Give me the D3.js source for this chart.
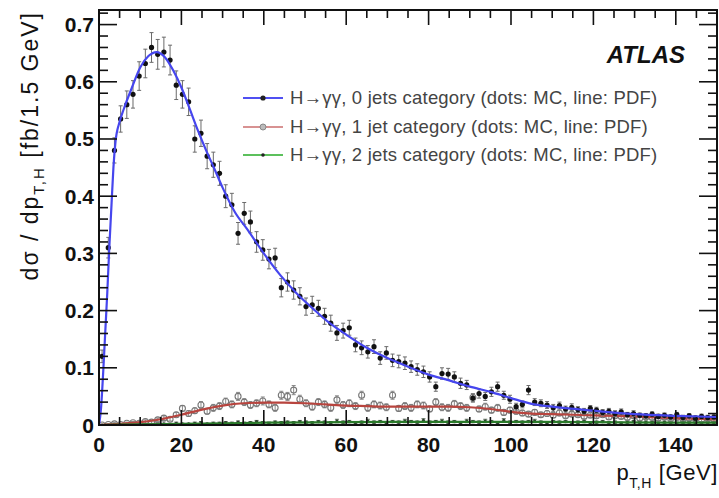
<!DOCTYPE html>
<html>
<head>
<meta charset="utf-8">
<script src="https://cdn.jsdelivr.net/npm/d3@7"></script>
<style>
  body { margin: 0; background: #fff; }
  svg { display: block; font-family: "Liberation Sans", Arial, sans-serif; }
</style>
</head>
<body>
<svg id="chart" width="719" height="498"></svg>
<script>
// pT bins: 100 bins of 1.5 GeV from 0 to 150
const binWidth = 1.5;
const nBins = 100;

// 0 jets category, MC (dots) and its errors
const mc0 = [
  0.12, 0.31, 0.48, 0.535, 0.56, 0.578, 0.61, 0.632, 0.66, 0.648,
  0.652, 0.638, 0.594, 0.578, 0.565, 0.50, 0.51, 0.47, 0.455, 0.44,
  0.40, 0.385, 0.335, 0.37, 0.355, 0.32, 0.306, 0.29, 0.292, 0.24,
  0.25, 0.236, 0.225, 0.207, 0.21, 0.204, 0.19, 0.178, 0.161, 0.165,
  0.17, 0.14, 0.135, 0.128, 0.137, 0.117, 0.126, 0.113, 0.111, 0.108,
  0.102, 0.097, 0.093, 0.084, 0.067, 0.09, 0.089, 0.084, 0.073, 0.07,
  0.047, 0.055, 0.05, 0.058, 0.067, 0.052, 0.045, 0.032, 0.036, 0.061,
  0.04, 0.038, 0.035, 0.03, 0.034, 0.028, 0.031, 0.027, 0.024, 0.029,
  0.026, 0.022, 0.024, 0.02, 0.023, 0.018, 0.02, 0.017, 0.016, 0.019,
  0.015, 0.017, 0.014, 0.018, 0.013, 0.016, 0.012, 0.015, 0.013, 0.014
];
const err0 = [
  0.011, 0.018, 0.022, 0.023, 0.024, 0.024, 0.025, 0.025, 0.026, 0.026,
  0.026, 0.026, 0.025, 0.024, 0.024, 0.023, 0.023, 0.022, 0.022, 0.021,
  0.020, 0.020, 0.019, 0.019, 0.019, 0.018, 0.018, 0.017, 0.017, 0.016,
  0.016, 0.016, 0.015, 0.015, 0.015, 0.014, 0.014, 0.014, 0.013, 0.013,
  0.013, 0.012, 0.012, 0.011, 0.012, 0.011, 0.011, 0.011, 0.011, 0.011,
  0.010, 0.010, 0.010, 0.009, 0.008, 0.010, 0.010, 0.009, 0.009, 0.008,
  0.007, 0.008, 0.007, 0.008, 0.008, 0.007, 0.007, 0.006, 0.006, 0.008,
  0.006, 0.006, 0.006, 0.006, 0.006, 0.005, 0.006, 0.005, 0.005, 0.005,
  0.005, 0.005, 0.005, 0.005, 0.005, 0.004, 0.005, 0.004, 0.004, 0.004,
  0.004, 0.004, 0.004, 0.004, 0.004, 0.004, 0.004, 0.004, 0.004, 0.004
];

// 1 jet category, MC (dots) and its errors
const mc1 = [
  0.000, 0.001, 0.002, 0.001, 0.003, 0.004, 0.003, 0.006, 0.005, 0.009,
  0.012, 0.010, 0.018, 0.029, 0.020, 0.025, 0.035, 0.024, 0.030, 0.033,
  0.041, 0.036, 0.050, 0.040, 0.035, 0.038, 0.042, 0.036, 0.030, 0.052,
  0.050, 0.061, 0.045, 0.038, 0.032, 0.040, 0.036, 0.030, 0.044, 0.035,
  0.038, 0.033, 0.052, 0.030, 0.036, 0.034, 0.031, 0.052, 0.029, 0.033,
  0.030, 0.036, 0.034, 0.028, 0.040, 0.031, 0.030, 0.037, 0.033, 0.030,
  0.048, 0.028, 0.032, 0.026, 0.030, 0.022, 0.026, 0.024, 0.021, 0.019,
  0.022, 0.018, 0.020, 0.017, 0.021, 0.016, 0.019, 0.018, 0.015, 0.017,
  0.016, 0.018, 0.014, 0.016, 0.015, 0.013, 0.016, 0.012, 0.014, 0.013,
  0.012, 0.014, 0.011, 0.013, 0.010, 0.012, 0.011, 0.009, 0.011, 0.010
];
const err1 = [
  0.001, 0.001, 0.002, 0.001, 0.002, 0.002, 0.002, 0.003, 0.002, 0.003,
  0.004, 0.003, 0.004, 0.005, 0.005, 0.005, 0.006, 0.005, 0.006, 0.006,
  0.006, 0.006, 0.007, 0.006, 0.006, 0.006, 0.007, 0.006, 0.006, 0.007,
  0.007, 0.008, 0.007, 0.006, 0.006, 0.006, 0.006, 0.006, 0.007, 0.006,
  0.006, 0.006, 0.007, 0.006, 0.006, 0.006, 0.006, 0.007, 0.005, 0.006,
  0.006, 0.006, 0.006, 0.005, 0.006, 0.006, 0.006, 0.006, 0.006, 0.006,
  0.007, 0.005, 0.006, 0.005, 0.006, 0.005, 0.005, 0.005, 0.005, 0.004,
  0.005, 0.004, 0.005, 0.004, 0.005, 0.004, 0.004, 0.004, 0.004, 0.004,
  0.004, 0.004, 0.004, 0.004, 0.004, 0.004, 0.004, 0.004, 0.004, 0.004,
  0.004, 0.004, 0.003, 0.004, 0.003, 0.004, 0.003, 0.003, 0.003, 0.003
];

// 2 jets category, MC (dots) and its errors
const mc2 = [
  0.000, 0.000, 0.001, 0.000, 0.001, 0.001, 0.002, 0.001, 0.001, 0.002,
  0.002, 0.001, 0.003, 0.002, 0.002, 0.003, 0.004, 0.002, 0.003, 0.003,
  0.004, 0.003, 0.005, 0.003, 0.004, 0.006, 0.004, 0.003, 0.005, 0.004,
  0.005, 0.004, 0.006, 0.005, 0.004, 0.006, 0.005, 0.004, 0.007, 0.005,
  0.006, 0.004, 0.005, 0.007, 0.005, 0.006, 0.004, 0.006, 0.005, 0.007,
  0.006, 0.005, 0.008, 0.005, 0.006, 0.007, 0.005, 0.006, 0.004, 0.007,
  0.006, 0.005, 0.007, 0.006, 0.004, 0.008, 0.005, 0.006, 0.005, 0.006,
  0.007, 0.005, 0.004, 0.006, 0.005, 0.006, 0.004, 0.005, 0.006, 0.004,
  0.005, 0.006, 0.004, 0.005, 0.003, 0.005, 0.006, 0.004, 0.005, 0.004,
  0.003, 0.005, 0.004, 0.003, 0.005, 0.004, 0.003, 0.004, 0.003, 0.004
];
const err2 = [
  0.001, 0.001, 0.001, 0.001, 0.001, 0.001, 0.001, 0.001, 0.001, 0.001,
  0.001, 0.001, 0.002, 0.001, 0.001, 0.002, 0.002, 0.001, 0.002, 0.002,
  0.002, 0.002, 0.002, 0.002, 0.002, 0.002, 0.002, 0.002, 0.002, 0.002,
  0.002, 0.002, 0.002, 0.002, 0.002, 0.002, 0.002, 0.002, 0.003, 0.002,
  0.002, 0.002, 0.002, 0.003, 0.002, 0.002, 0.002, 0.002, 0.002, 0.003,
  0.002, 0.002, 0.003, 0.002, 0.002, 0.003, 0.002, 0.002, 0.002, 0.003,
  0.002, 0.002, 0.003, 0.002, 0.002, 0.003, 0.002, 0.002, 0.002, 0.002,
  0.003, 0.002, 0.002, 0.002, 0.002, 0.002, 0.002, 0.002, 0.002, 0.002,
  0.002, 0.002, 0.002, 0.002, 0.002, 0.002, 0.002, 0.002, 0.002, 0.002,
  0.002, 0.002, 0.002, 0.002, 0.002, 0.002, 0.002, 0.002, 0.002, 0.002
];

const pdf0Pt  = [0, 0.5, 1, 1.5, 2, 2.5, 3, 3.5, 4, 5, 6, 8, 10, 12, 14, 16, 18, 20, 22, 24, 26, 28, 30, 33, 36, 40, 44, 48, 52, 56, 60, 65, 70, 75, 80, 85, 90, 95, 100, 105, 110, 120, 130, 140, 150];
const pdf0Val = [0, 0.03, 0.09, 0.16, 0.23, 0.31, 0.38, 0.45, 0.495, 0.53, 0.552, 0.59, 0.625, 0.645, 0.652, 0.643, 0.62, 0.59, 0.553, 0.515, 0.48, 0.448, 0.415, 0.372, 0.342, 0.30, 0.262, 0.23, 0.203, 0.178, 0.158, 0.135, 0.117, 0.102, 0.088, 0.078, 0.067, 0.058, 0.047, 0.037, 0.032, 0.025, 0.019, 0.016, 0.014];
const pdf1Pt  = [0, 5, 10, 15, 20, 25, 30, 35, 40, 45, 50, 55, 60, 65, 70, 75, 80, 85, 90, 95, 100, 105, 110, 120, 130, 140, 150];
const pdf1Val = [0, 0.002, 0.005, 0.01, 0.018, 0.027, 0.034, 0.038, 0.039, 0.039, 0.038, 0.036, 0.034, 0.033, 0.032, 0.032, 0.032, 0.032, 0.031, 0.028, 0.023, 0.02, 0.019, 0.017, 0.015, 0.012, 0.01];
const pdf2Pt  = [0, 10, 20, 30, 40, 60, 80, 100, 120, 140, 150];
const pdf2Val = [0, 0.001, 0.002, 0.003, 0.004, 0.005, 0.0055, 0.0055, 0.005, 0.004, 0.004];

const legendLabels = [
  'H\u2192\u03B3\u03B3, 0 jets category (dots: MC, line: PDF)',
  'H\u2192\u03B3\u03B3, 1 jet category (dots: MC, line: PDF)',
  'H\u2192\u03B3\u03B3, 2 jets category (dots: MC, line: PDF)'
];
const xTicks = [0, 20, 40, 60, 80, 100, 120, 140];
const yTicks = [0, 0.1, 0.2, 0.3, 0.4, 0.5, 0.6, 0.7];

const svg = d3.select('#chart');

// Frame geometry
const frameL = 99, frameR = 717, frameT = 10, frameB = 425;

const x = d3.scaleLinear().domain([0, 150]).range([frameL, frameR]);
const y = d3.scaleLinear().domain([0, 0.7255]).range([frameB, frameT]);

svg.append('defs').append('clipPath').attr('id', 'plotclip')
  .append('rect')
  .attr('x', frameL).attr('y', frameT)
  .attr('width', frameR - frameL).attr('height', frameB - frameT);

const plot = svg.append('g').attr('clip-path', 'url(#plotclip)');

const centers = d3.range(nBins).map(i => (i + 0.5) * binWidth);

// Draw MC points with vertical error bars
function drawMC(values, errors, opts) {
  const g = plot.append('g');
  const pts = values.map((v, i) => ({ x: centers[i], v: v, e: errors[i] }));
  g.selectAll('line.err').data(pts).join('line')
    .attr('class', 'err')
    .attr('x1', d => x(d.x)).attr('x2', d => x(d.x))
    .attr('y1', d => y(d.v - d.e)).attr('y2', d => y(d.v + d.e))
    .attr('stroke', opts.errColor).attr('stroke-width', 1);
  ['lo', 'hi'].forEach(k => {
    const s = k === 'hi' ? 1 : -1;
    g.selectAll('line.cap' + k).data(pts).join('line')
      .attr('class', 'cap' + k)
      .attr('x1', d => x(d.x) - 2).attr('x2', d => x(d.x) + 2)
      .attr('y1', d => y(d.v + s * d.e)).attr('y2', d => y(d.v + s * d.e))
      .attr('stroke', opts.errColor).attr('stroke-width', 1);
  });
  g.selectAll('circle').data(pts).join('circle')
    .attr('cx', d => x(d.x)).attr('cy', d => y(d.v))
    .attr('r', opts.r)
    .attr('fill', opts.fill)
    .attr('stroke', opts.stroke)
    .attr('stroke-width', opts.strokeWidth);
}

function drawPDF(pts, vals, color) {
  const line = d3.line()
    .x((d, i) => x(pts[i]))
    .y(d => y(d))
    .curve(d3.curveMonotoneX);
  plot.append('path')
    .attr('d', line(vals))
    .attr('fill', 'none')
    .attr('stroke', color)
    .attr('stroke-width', 2.2);
}

drawMC(mc2, err2, { r: 1.6, fill: '#2d3a2d', stroke: 'none', strokeWidth: 0, errColor: '#5a6a5a' });
drawMC(mc1, err1, { r: 3, fill: 'none', stroke: '#777', strokeWidth: 1.1, errColor: '#8a8a8a' });
drawPDF(pdf1Pt, pdf1Val, '#b8443e');
drawPDF(pdf2Pt, pdf2Val, '#2a7a2a');
drawMC(mc0, err0, { r: 2.6, fill: '#111', stroke: 'none', strokeWidth: 0, errColor: '#6a6a6a' });
drawPDF(pdf0Pt, pdf0Val, '#4646ee');

// Frame
svg.append('rect')
  .attr('x', frameL).attr('y', frameT)
  .attr('width', frameR - frameL).attr('height', frameB - frameT)
  .attr('fill', 'none').attr('stroke', '#111').attr('stroke-width', 2);

// Ticks (inward, mirrored on top and right)
const axes = svg.append('g').attr('stroke', '#111');
const xMinor = d3.range(0, 151, 5);
xMinor.forEach(v => {
  const major = v % 20 === 0;
  const len = major ? 15 : 8;
  axes.append('line').attr('x1', x(v)).attr('x2', x(v))
    .attr('y1', frameB).attr('y2', frameB - len).attr('stroke-width', 1.6);
  axes.append('line').attr('x1', x(v)).attr('x2', x(v))
    .attr('y1', frameT).attr('y2', frameT + len).attr('stroke-width', 1.6);
});
const yMinor = d3.range(0, 37).map(i => i * 0.02);
yMinor.forEach((v, i) => {
  const major = i % 5 === 0;
  const len = major ? 18 : 9;
  axes.append('line').attr('x1', frameL).attr('x2', frameL + len)
    .attr('y1', y(v)).attr('y2', y(v)).attr('stroke-width', 1.6);
  axes.append('line').attr('x1', frameR).attr('x2', frameR - len)
    .attr('y1', y(v)).attr('y2', y(v)).attr('stroke-width', 1.6);
});

// Tick labels
const labels = svg.append('g')
  .attr('font-size', 21).attr('font-weight', 'bold').attr('fill', '#111');
labels.selectAll('text.xt').data(xTicks).join('text')
  .attr('class', 'xt')
  .attr('x', d => x(d)).attr('y', 452)
  .attr('text-anchor', 'middle')
  .text(d => d);
labels.selectAll('text.yt').data(yTicks).join('text')
  .attr('class', 'yt')
  .attr('x', 94).attr('y', d => y(d) + 7.5)
  .attr('text-anchor', 'end')
  .text(d => d === 0 ? '0' : d.toFixed(1));

// Axis titles
const yTitle = svg.append('text')
  .attr('transform', 'translate(38,11) rotate(-90)')
  .attr('text-anchor', 'end')
  .attr('font-size', 23).attr('letter-spacing', 2).attr('fill', '#111');
yTitle.append('tspan').text('d\u03C3 / dp');
yTitle.append('tspan').attr('font-size', 15).attr('dy', 6).text('T,H');
yTitle.append('tspan').attr('dy', -6).text(' [fb/1.5 GeV]');

const xTitle = svg.append('text')
  .attr('x', 718).attr('y', 480)
  .attr('text-anchor', 'end')
  .attr('font-size', 22).attr('letter-spacing', 0.6).attr('fill', '#111');
xTitle.append('tspan').text('p');
xTitle.append('tspan').attr('font-size', 14).attr('dy', 8).text('T,H');
xTitle.append('tspan').attr('dy', -8).text(' [GeV]');

// ATLAS label
svg.append('text')
  .attr('x', 685).attr('y', 63)
  .attr('text-anchor', 'end')
  .attr('font-size', 24).attr('font-weight', 'bold').attr('font-style', 'italic')
  .attr('fill', '#111')
  .text('ATLAS');

// Legend
const legendColors = ['#5050f2', '#d89292', '#5cc05c'];
const legendRowY = [98, 127, 155];
const leg = svg.append('g');
legendLabels.forEach((lab, i) => {
  const ly = legendRowY[i];
  leg.append('line').attr('x1', 243).attr('x2', 283)
    .attr('y1', ly).attr('y2', ly)
    .attr('stroke', legendColors[i]).attr('stroke-width', 2);
  if (i === 1) {
    leg.append('circle').attr('cx', 263).attr('cy', ly).attr('r', 3)
      .attr('fill', '#bbb').attr('stroke', '#888').attr('stroke-width', 1);
  } else {
    leg.append('circle').attr('cx', 263).attr('cy', ly).attr('r', i === 0 ? 2.6 : 1.8)
      .attr('fill', '#222');
  }
  leg.append('text')
    .attr('x', 290).attr('y', ly + 6)
    .attr('font-size', 18.5).attr('letter-spacing', 0.2).attr('fill', '#444')
    .text(lab);
});
</script>
</body>
</html>
